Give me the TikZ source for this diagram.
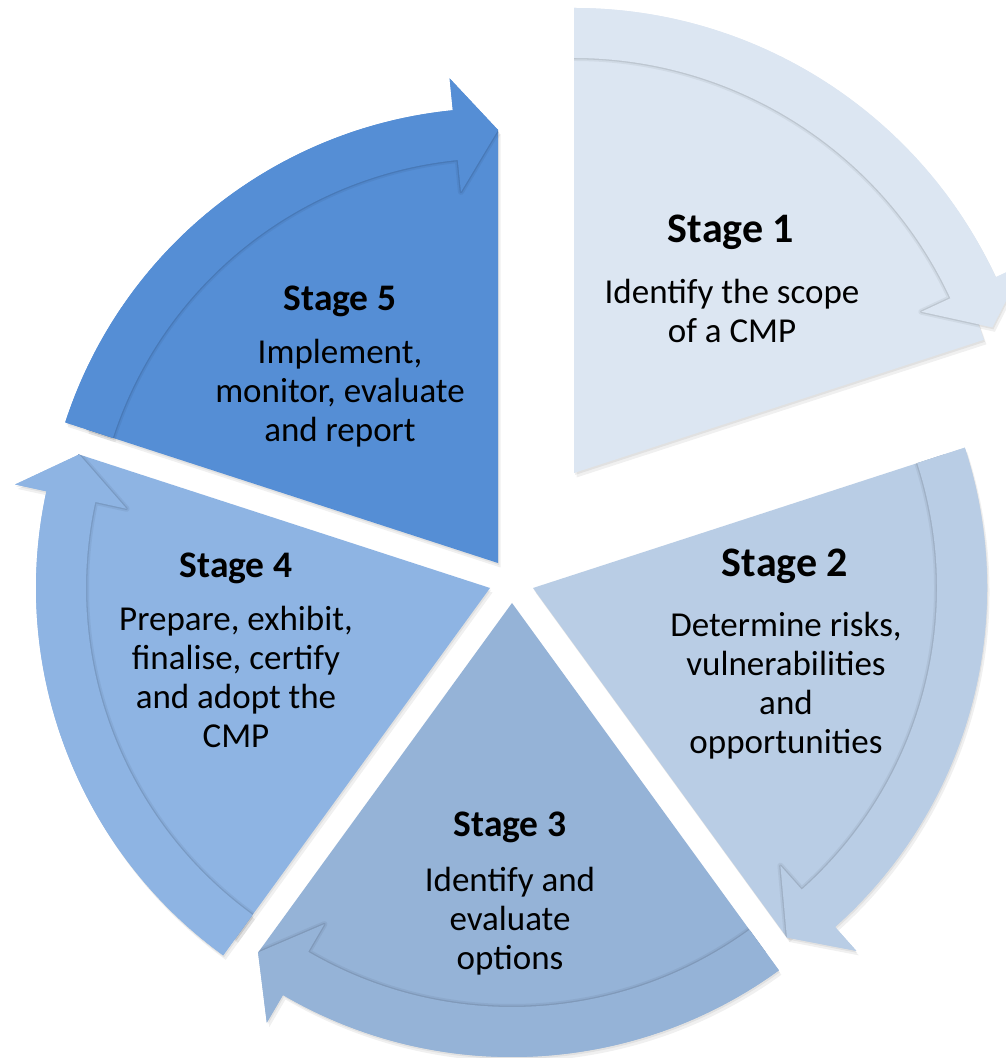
\documentclass[tikz,border=0pt]{standalone}
\usepackage{fontspec}
\setmainfont{Carlito}
\definecolor{cA}{RGB}{220,230,242}
\definecolor{cB}{RGB}{185,205,229}
\definecolor{cC}{RGB}{149,179,215}
\definecolor{cD}{RGB}{142,180,227}
\definecolor{cE}{RGB}{85,142,213}
\tikzset{
  softA/.style={draw=black, draw opacity=0.05, line width=6pt, line join=round},
  softB/.style={draw=black, draw opacity=0.09, line width=2.6pt, line join=round},
  dropA/.style={fill=black, fill opacity=0.06},
  titletext/.style={anchor=base, inner sep=0pt, font=\fontsize{37.5}{40}\selectfont\bfseries},
  bigtitle/.style={titletext, font=\fontsize{42}{44}\selectfont\bfseries},
  bodytext/.style={anchor=base, inner sep=0pt, font=\fontsize{35}{39}\selectfont},
}
% #1 apex x, #2 apex y, #3 start angle, #4 end angle, #5 pie radius,
% #6 band inner radius, #7 band outer radius, #8 colour, #9 tip angle offset
\newcommand{\drawstage}[9]{%
  \begin{scope}[shift={(#1,#2)}]
    \pgfmathsetmacro\tipang{#4+#9}
    \pgfmathsetmacro\hb{\tipang+5.7}
    \pgfmathsetmacro\rt{(#6+#7)/2+3}
    \pgfmathsetmacro\rbo{#7+32}
    \pgfmathsetmacro\rbi{#6-32}
    \def\piepath{(0,0) -- (#3:#5) arc[start angle=#3, end angle=#4, radius=#5] -- cycle}
    \def\bandpath{(#3:#7) arc[start angle=#3, end angle=\hb, radius=#7]
      -- (\hb:\rbo) -- (\tipang:\rt) -- (\hb:\rbi) -- (\hb:#6)
      arc[start angle=\hb, end angle=#3, radius=#6] -- cycle}
    % soft drop shadows
    \begin{scope}[shift={(1,-2)}]
      \path[dropA] \piepath;
      \path[dropA] \bandpath;
    \end{scope}
    \begin{scope}[shift={(2.5,-4.5)}]
      \path[dropA] \piepath;
      \path[dropA] \bandpath;
    \end{scope}
    \fill[#8] \piepath;
    \fill[#8] \bandpath;
    % shadow of the band cast on its own wedge
    \begin{scope}
      \clip \piepath;
      \path[softA] \bandpath;
      \path[softB] \bandpath;
    \end{scope}
    \fill[#8] \bandpath;
  \end{scope}}
\begin{document}
\begin{tikzpicture}[x=1pt, y=1pt]
  \useasboundingbox (0,0) rectangle (1006,1058);
  \clip (0,0) rectangle (1006,1058);
  \fill[white] (0,0) rectangle (1006,1058);

  \drawstage{574}{585}{90}{18}{431}{415}{465}{cA}{1.2}
  \drawstage{533}{470}{18}{-54}{432}{404}{454}{cB}{0}
  \drawstage{512}{455}{306}{234}{432}{404}{454}{cC}{0}
  \drawstage{490}{470}{234}{162}{433}{404}{454}{cD}{0}
  \drawstage{498}{495}{162}{90}{433}{405}{455}{cE}{0}

  \node[bigtitle] (t1) at (731,815) {Stage 1};
  \node[bodytext] (b1) at (732,754) {\begin{tabular}[t]{@{}c@{}}Identify the scope\\of a CMP\end{tabular}};

  \node[bigtitle] (t2) at (785,481) {Stage 2};
  \node[bodytext] (b2) at (786,421) {\begin{tabular}[t]{@{}c@{}}Determine risks,\\vulnerabilities\\and\\opportunities\end{tabular}};

  \node[titletext] (t3) at (510,221) {Stage 3};
  \node[bodytext] (b3) at (510,166) {\begin{tabular}[t]{@{}c@{}}Identify and\\evaluate\\options\end{tabular}};

  \node[titletext] (t4) at (236,480) {Stage 4};
  \node[bodytext] (b4) at (236,427) {\begin{tabular}[t]{@{}c@{}}Prepare, exhibit,\\finalise, certify\\and adopt the\\CMP\end{tabular}};

  \node[titletext] (t5) at (340,747) {Stage 5};
  \node[bodytext] (b5) at (340,694) {\begin{tabular}[t]{@{}c@{}}Implement,\\monitor, evaluate\\and report\end{tabular}};
\end{tikzpicture}
\end{document}
